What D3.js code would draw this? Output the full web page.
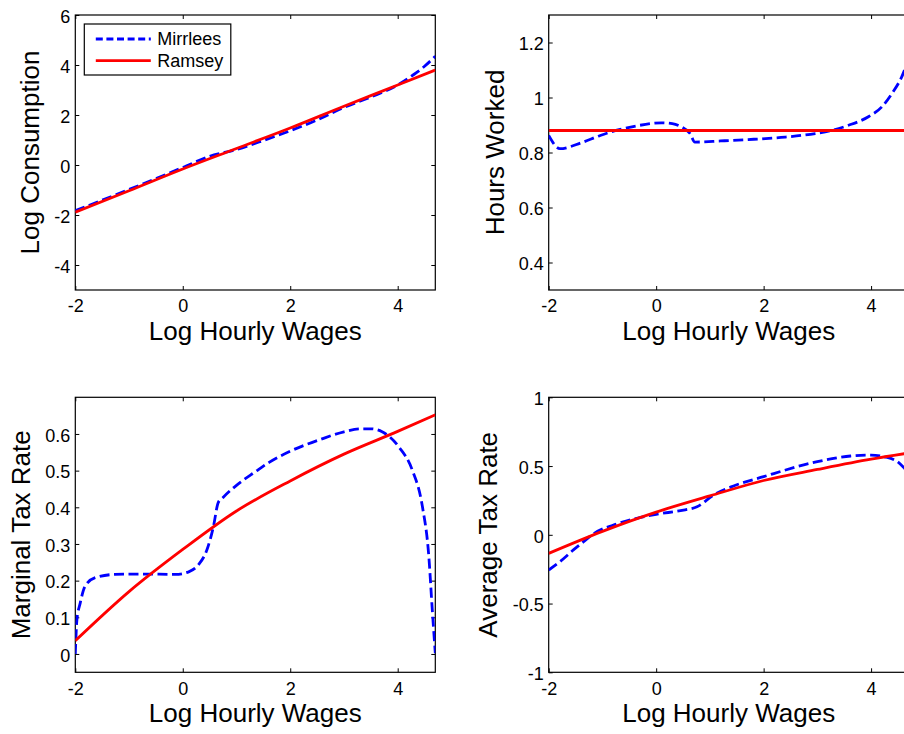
<!DOCTYPE html>
<html>
<head>
<meta charset="utf-8">
<script src="https://cdn.jsdelivr.net/npm/d3@7"></script>
<style>
body { margin: 0; background: #fff; }
svg { display: block; font-family: "Liberation Sans", Arial, Helvetica, sans-serif; }
</style>
</head>
<body>
<svg id="chart" width="904" height="734"></svg>
<script>
// shared x axis (log hourly wages)
var xDomain = [-2, 4.7];
var xTicks = [-2, 0, 2, 4];
var xLabel = "Log Hourly Wages";
var seriesNames = ["Mirrlees", "Ramsey"];

// log consumption
var consTicks = [-4, -2, 0, 2, 4, 6];
var consMirrX = [-2, -1, 0, 0.5, 1, 1.5, 2, 2.5, 3, 3.5, 4, 4.3, 4.5, 4.7];
var consMirrY = [-1.83, -0.98, -0.1, 0.35, 0.62, 0.98, 1.37, 1.8, 2.3, 2.72, 3.2, 3.62, 3.95, 4.35];
var consRamsX = [-2, -1, 0, 1, 2, 3, 4, 4.7];
var consRamsY = [-1.89, -1.03, -0.16, 0.66, 1.48, 2.35, 3.2, 3.8];

// hours worked
var hoursTicks = [0.4, 0.6, 0.8, 1, 1.2];
var hoursMirrX = [-2, -1.79, -1.4, -1.04, -0.73, -0.36, 0.1, 0.3, 0.47, 0.63, 0.72, 1.2, 1.71, 2.4, 2.96, 3.3, 3.58, 3.95, 4.2, 4.39, 4.57, 4.7];
var hoursMirrY = [0.862, 0.814, 0.835, 0.862, 0.881, 0.897, 0.908, 0.905, 0.893, 0.869, 0.838, 0.842, 0.847, 0.856, 0.869, 0.882, 0.899, 0.93, 0.966, 1.015, 1.075, 1.14];
var hoursRamsX = [-2, 4.7];
var hoursRamsY = [0.88, 0.88];

// marginal tax rate
var mtrTicks = [0, 0.1, 0.2, 0.3, 0.4, 0.5, 0.6];
var mtrMirrX = [-2, -1.97, -1.91, -1.82, -1.63, -1.26, -0.76, -0.14, 0.11, 0.29, 0.45, 0.57, 0.66, 0.75, 1.0, 1.35, 1.6, 2.0, 2.56, 3.0, 3.3, 3.5, 3.71, 4.02, 4.27, 4.46, 4.58, 4.64, 4.7];
var mtrMirrY = [0.0, 0.093, 0.138, 0.184, 0.208, 0.217, 0.218, 0.217, 0.224, 0.243, 0.284, 0.347, 0.413, 0.427, 0.46, 0.497, 0.522, 0.553, 0.585, 0.606, 0.614, 0.614, 0.606, 0.565, 0.502, 0.402, 0.265, 0.129, 0.002];
var mtrRamsX = [-2, -1, 0, 1, 2, 3, 4, 4.7];
var mtrRamsY = [0.036, 0.17, 0.285, 0.39, 0.472, 0.545, 0.607, 0.652];

// average tax rate
var atrTicks = [-1, -0.5, 0, 0.5, 1];
var atrMirrX = [-2, -1.79, -1.54, -1.35, -1.17, -0.73, -0.36, 0, 0.51, 0.76, 1.07, 1.44, 2, 3, 3.62, 4, 4.24, 4.49, 4.62, 4.7];
var atrMirrY = [-0.256, -0.195, -0.11, -0.05, 0.006, 0.079, 0.12, 0.149, 0.18, 0.204, 0.29, 0.355, 0.423, 0.532, 0.573, 0.58, 0.568, 0.532, 0.484, 0.45];
var atrRamsX = [-2, -1, 0, 1, 2, 3, 4, 4.7];
var atrRamsY = [-0.135, 0.025, 0.165, 0.283, 0.395, 0.475, 0.55, 0.595];

var svg = d3.select("#chart");
var W = 360, H = 275;

function zip(xs, ys) {
    return xs.map(function (x, i) { return [x, ys[i]]; });
}
function fmt(d) {
    return String(+d.toFixed(2));
}

function drawPanel(id, left, top, yDomain, yTicks, yLabel, labelOff, mirr, rams, legend) {
    var x = d3.scaleLinear().domain(xDomain).range([0, W]);
    var y = d3.scaleLinear().domain(yDomain).range([H, 0]);
    var g = svg.append("g").attr("transform", "translate(" + left + "," + top + ")");

    g.append("clipPath").attr("id", "clip-" + id)
        .append("rect").attr("width", W).attr("height", H);

    // ticks on all four sides, pointing inward
    var bottom = g.append("g").attr("transform", "translate(0," + H + ")")
        .call(d3.axisBottom(x).tickValues(xTicks).tickSizeInner(-4).tickSizeOuter(0).tickPadding(9.5).tickFormat(fmt));
    var leftAx = g.append("g")
        .call(d3.axisLeft(y).tickValues(yTicks).tickSizeInner(-4).tickSizeOuter(0).tickPadding(5).tickFormat(fmt));
    g.append("g")
        .call(d3.axisTop(x).tickValues(xTicks).tickSizeInner(-4).tickSizeOuter(0).tickFormat(""));
    g.append("g").attr("transform", "translate(" + W + ",0)")
        .call(d3.axisRight(y).tickValues(yTicks).tickSizeInner(-4).tickSizeOuter(0).tickFormat(""));
    g.selectAll(".domain").remove();
    g.selectAll(".tick line").attr("stroke", "#000");
    bottom.selectAll("text").attr("font-size", 18).attr("fill", "#000").attr("font-family", null);
    leftAx.selectAll("text").attr("font-size", 18).attr("fill", "#000").attr("font-family", null).attr("dy", "0.4em");

    g.append("rect").attr("width", W).attr("height", H)
        .attr("fill", "none").attr("stroke", "#000").attr("stroke-width", 1.2);

    var line = d3.line()
        .x(function (d) { return x(d[0]); })
        .y(function (d) { return y(d[1]); })
        .curve(d3.curveMonotoneX);

    var plot = g.append("g").attr("clip-path", "url(#clip-" + id + ")");
    plot.append("path").datum(mirr)
        .attr("d", line).attr("fill", "none")
        .attr("stroke", "#0000ff").attr("stroke-width", 2.8).attr("stroke-dasharray", "10,4.5");
    plot.append("path").datum(rams)
        .attr("d", line).attr("fill", "none")
        .attr("stroke", "#ff0000").attr("stroke-width", 2.8);

    g.append("text")
        .attr("x", W / 2).attr("y", H + 50)
        .attr("text-anchor", "middle").attr("font-size", 26)
        .text(xLabel);
    g.append("text")
        .attr("transform", "translate(" + (-labelOff) + "," + (H / 2) + ") rotate(-90)")
        .attr("text-anchor", "middle").attr("font-size", 26)
        .text(yLabel);

    if (legend) {
        var lg = g.append("g").attr("transform", "translate(9,9)");
        lg.append("rect").attr("width", 146.5).attr("height", 51)
            .attr("fill", "#fff").attr("stroke", "#000").attr("stroke-width", 1.2);
        var styles = [{ c: "#0000ff", dash: "7,3.6" }, { c: "#ff0000", dash: null }];
        seriesNames.forEach(function (name, i) {
            var yy = 15 + i * 21.7;
            lg.append("line").attr("x1", 11.5).attr("x2", 66.5).attr("y1", yy).attr("y2", yy)
                .attr("stroke", styles[i].c).attr("stroke-width", 2.8)
                .attr("stroke-dasharray", styles[i].dash);
            lg.append("text").attr("x", 73).attr("y", yy + 6.3)
                .attr("font-size", 18).text(name);
        });
    }
}

drawPanel("cons", 75.3, 15, [-5, 6], consTicks, "Log Consumption", 36,
    zip(consMirrX, consMirrY), zip(consRamsX, consRamsY), true);
drawPanel("hours", 548.7, 15, [0.3, 1.3], hoursTicks, "Hours Worked", 45,
    zip(hoursMirrX, hoursMirrY), zip(hoursRamsX, hoursRamsY), false);
drawPanel("mtr", 75.3, 397.3, [-0.05, 0.7], mtrTicks, "Marginal Tax Rate", 45,
    zip(mtrMirrX, mtrMirrY), zip(mtrRamsX, mtrRamsY), false);
drawPanel("atr", 548.7, 397.3, [-1, 1], atrTicks, "Average Tax Rate", 52,
    zip(atrMirrX, atrMirrY), zip(atrRamsX, atrRamsY), false);
</script>
</body>
</html>
